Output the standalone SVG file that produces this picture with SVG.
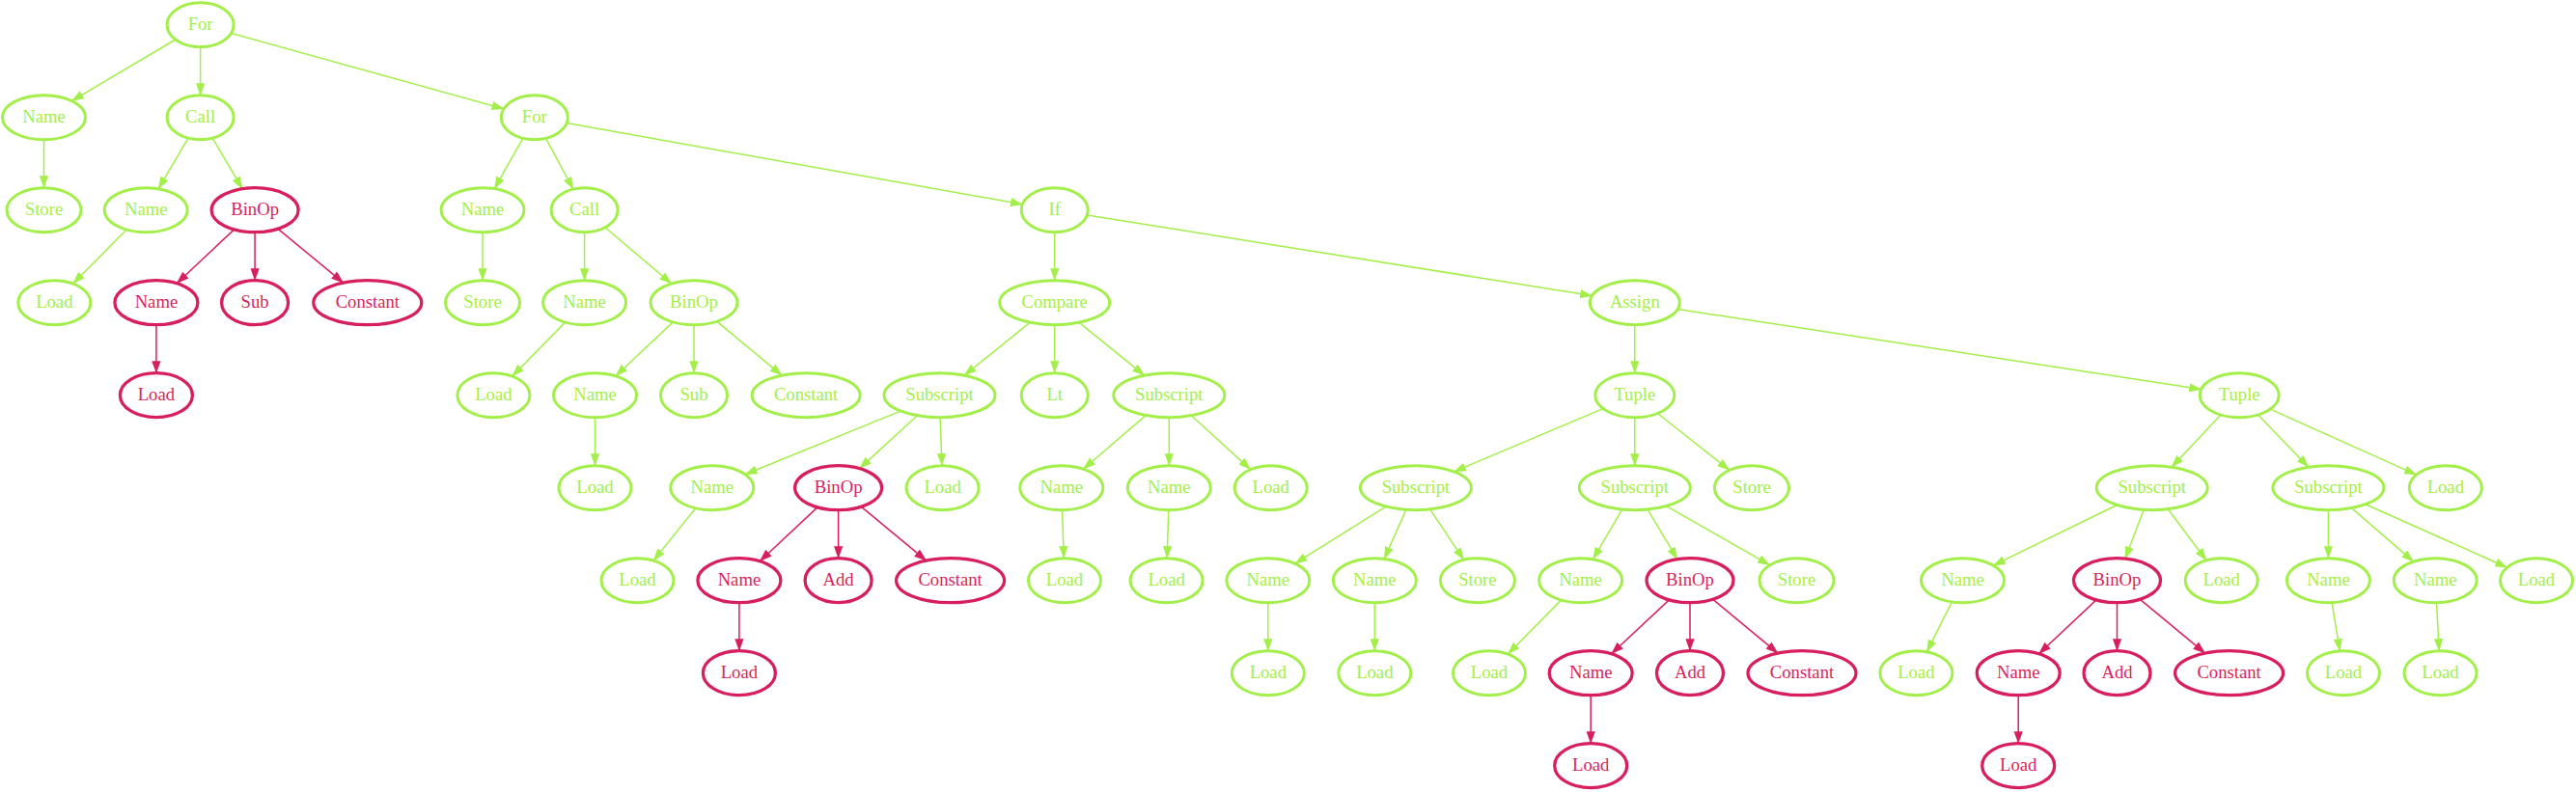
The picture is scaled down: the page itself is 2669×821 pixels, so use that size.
<svg xmlns="http://www.w3.org/2000/svg" width="2669" height="821" viewBox="0 0 2669 821">
<defs>
<style>
.g ellipse{fill:#ffffff;stroke:#a3ef49;stroke-width:3}
.r ellipse{fill:#ffffff;stroke:#d81f5d;stroke-width:3.3}
.g text{fill:#a3ef49}
.r text{fill:#d81f5d}
text{font-family:"Liberation Serif","Times New Roman",serif;font-size:18.67px;text-anchor:middle}
.e line{stroke:#a3ef49;stroke-width:1.5;fill:none}
.e line.x{stroke:#d81f5d;marker-end:url(#ar)}
.e line.y{marker-end:url(#ag)}
</style>
<marker id="ag" markerUnits="userSpaceOnUse" viewBox="0 0 13 10" markerWidth="13" markerHeight="10" refX="12.5" refY="5" orient="auto"><path d="M0,0.4 L13,5 L0,9.6 z" fill="#a3ef49"/></marker>
<marker id="ar" markerUnits="userSpaceOnUse" viewBox="0 0 13 10" markerWidth="13" markerHeight="10" refX="12.5" refY="5" orient="auto"><path d="M0,0.4 L13,5 L0,9.6 z" fill="#d81f5d"/></marker>
</defs>
<rect width="2669" height="821" fill="#ffffff"/>
<g id="edges" class="e">
<line class="y" x1="181.8" y1="41" x2="74.4" y2="104.6"/>
<line class="y" x1="207.6" y1="48.7" x2="207.6" y2="98.7"/>
<line class="y" x1="239.5" y1="34.5" x2="522" y2="112.9"/>
<line class="y" x1="45.5" y1="144.7" x2="45.5" y2="194.7"/>
<line class="y" x1="195" y1="143.1" x2="164.1" y2="195.8"/>
<line class="y" x1="220.2" y1="143.1" x2="251.1" y2="195.7"/>
<line class="y" x1="131.1" y1="238" x2="75.7" y2="294"/>
<line class="x" x1="242.6" y1="237.9" x2="183.2" y2="293.7"/>
<line class="x" x1="264.1" y1="240.7" x2="264.1" y2="290.7"/>
<line class="x" x1="287.9" y1="237.2" x2="355.8" y2="293.1"/>
<line class="x" x1="161.9" y1="336.7" x2="161.9" y2="386.7"/>
<line class="y" x1="541.8" y1="143.3" x2="512.3" y2="195.7"/>
<line class="y" x1="565.5" y1="143.4" x2="593.9" y2="196"/>
<line class="y" x1="587.1" y1="127.6" x2="1059.4" y2="211.8"/>
<line class="y" x1="500" y1="240.7" x2="500" y2="290.7"/>
<line class="y" x1="605.6" y1="240.7" x2="605.6" y2="290.7"/>
<line class="y" x1="627" y1="235.8" x2="695.7" y2="294"/>
<line class="y" x1="585.6" y1="334.1" x2="530.7" y2="390"/>
<line class="y" x1="697.4" y1="333.9" x2="637.9" y2="389.7"/>
<line class="y" x1="719" y1="336.7" x2="719" y2="386.7"/>
<line class="y" x1="742.7" y1="333.2" x2="810.2" y2="389.1"/>
<line class="y" x1="616.5" y1="432.7" x2="616.5" y2="482.7"/>
<line class="y" x1="1092.7" y1="240.7" x2="1092.7" y2="290.7"/>
<line class="y" x1="1126.3" y1="223.1" x2="1649.6" y2="306.6"/>
<line class="y" x1="1067.2" y1="334.3" x2="999.1" y2="389.1"/>
<line class="y" x1="1092.7" y1="336.7" x2="1092.7" y2="386.7"/>
<line class="y" x1="1118.1" y1="334.3" x2="1185.8" y2="389.1"/>
<line class="y" x1="933.2" y1="426.1" x2="772" y2="491.8"/>
<line class="y" x1="950.5" y1="430.8" x2="890.5" y2="485.6"/>
<line class="y" x1="974.2" y1="432.7" x2="975.9" y2="482.7"/>
<line class="y" x1="720.8" y1="526.8" x2="677.1" y2="581.1"/>
<line class="x" x1="847" y1="525.9" x2="787.3" y2="581.7"/>
<line class="x" x1="868.6" y1="528.7" x2="868.6" y2="578.7"/>
<line class="x" x1="892.2" y1="525.2" x2="959.7" y2="581.1"/>
<line class="x" x1="765.9" y1="624.7" x2="765.9" y2="674.7"/>
<line class="y" x1="1187.1" y1="430.6" x2="1122.5" y2="486.2"/>
<line class="y" x1="1211.3" y1="432.7" x2="1211.3" y2="482.7"/>
<line class="y" x1="1234.4" y1="430.8" x2="1295.8" y2="486.6"/>
<line class="y" x1="1100.6" y1="528.7" x2="1102.2" y2="578.7"/>
<line class="y" x1="1210.7" y1="528.7" x2="1209.2" y2="578.7"/>
<line class="y" x1="1693.8" y1="336.7" x2="1693.8" y2="386.7"/>
<line class="y" x1="1738.2" y1="320.5" x2="2280.7" y2="403.6"/>
<line class="y" x1="1661.1" y1="423.6" x2="1506.4" y2="489"/>
<line class="y" x1="1693.8" y1="432.7" x2="1693.8" y2="482.7"/>
<line class="y" x1="1717.5" y1="428.5" x2="1791.8" y2="487.3"/>
<line class="y" x1="1436" y1="525.1" x2="1341.7" y2="584.2"/>
<line class="y" x1="1456.9" y1="528.4" x2="1434.2" y2="579.3"/>
<line class="y" x1="1481.7" y1="527.9" x2="1516.7" y2="580.3"/>
<line class="y" x1="1313.8" y1="624.7" x2="1313.8" y2="674.7"/>
<line class="y" x1="1424.3" y1="624.7" x2="1424.3" y2="674.7"/>
<line class="y" x1="1680.7" y1="528.1" x2="1650.5" y2="579.8"/>
<line class="y" x1="1707.1" y1="528.1" x2="1737.9" y2="579.7"/>
<line class="y" x1="1726.7" y1="524.6" x2="1833.7" y2="585.8"/>
<line class="y" x1="1617.5" y1="622.1" x2="1562.4" y2="678"/>
<line class="x" x1="1729.4" y1="621.9" x2="1669.6" y2="677.7"/>
<line class="x" x1="1751" y1="624.7" x2="1751" y2="674.7"/>
<line class="x" x1="1774.6" y1="621.2" x2="1842.1" y2="677.1"/>
<line class="x" x1="1648.2" y1="720.7" x2="1648.2" y2="770.7"/>
<line class="y" x1="2301" y1="430" x2="2250" y2="484.2"/>
<line class="y" x1="2339.6" y1="430" x2="2391.8" y2="484.2"/>
<line class="y" x1="2352.2" y1="424.1" x2="2503.6" y2="492.1"/>
<line class="y" x1="2193.3" y1="523.5" x2="2065.2" y2="586.2"/>
<line class="y" x1="2221.1" y1="528.4" x2="2202" y2="579.1"/>
<line class="y" x1="2246.2" y1="527.7" x2="2286" y2="580.8"/>
<line class="y" x1="2412.4" y1="528.7" x2="2412.4" y2="578.7"/>
<line class="y" x1="2436.5" y1="526.6" x2="2500.6" y2="582.1"/>
<line class="y" x1="2450.8" y1="522.8" x2="2597.7" y2="588.2"/>
<line class="y" x1="2022.4" y1="623.9" x2="1996.4" y2="675.7"/>
<line class="x" x1="2172" y1="621.9" x2="2112.5" y2="677.7"/>
<line class="x" x1="2193.5" y1="624.7" x2="2193.5" y2="674.7"/>
<line class="x" x1="2217.1" y1="621.2" x2="2284.7" y2="677.1"/>
<line class="x" x1="2091.2" y1="720.7" x2="2091.2" y2="770.7"/>
<line class="y" x1="2416.1" y1="624.6" x2="2424.3" y2="674.8"/>
<line class="y" x1="2524.5" y1="624.7" x2="2527.2" y2="674.7"/>
</g>
<g id="n0" class="g"><ellipse cx="207.6" cy="25.7" rx="34.5" ry="23"/><text x="207.6" y="31.2">For</text></g>
<g id="n1" class="g"><ellipse cx="45.5" cy="121.7" rx="43" ry="23"/><text x="45.5" y="127.2">Name</text></g>
<g id="n2" class="g"><ellipse cx="207.6" cy="121.7" rx="34.5" ry="23"/><text x="207.6" y="127.2">Call</text></g>
<g id="n3" class="g"><ellipse cx="553.8" cy="121.7" rx="34.5" ry="23"/><text x="553.8" y="127.2">For</text></g>
<g id="n4" class="g"><ellipse cx="45.5" cy="217.7" rx="38.5" ry="23"/><text x="45.5" y="223.2">Store</text></g>
<g id="n5" class="g"><ellipse cx="151.2" cy="217.7" rx="43" ry="23"/><text x="151.2" y="223.2">Name</text></g>
<g id="n6" class="r"><ellipse cx="264.1" cy="217.7" rx="45" ry="23"/><text x="264.1" y="223.2">BinOp</text></g>
<g id="n7" class="g"><ellipse cx="56.3" cy="313.7" rx="37.5" ry="23"/><text x="56.3" y="319.2">Load</text></g>
<g id="n8" class="r"><ellipse cx="161.9" cy="313.7" rx="43" ry="23"/><text x="161.9" y="319.2">Name</text></g>
<g id="n9" class="r"><ellipse cx="264.1" cy="313.7" rx="34.5" ry="23"/><text x="264.1" y="319.2">Sub</text></g>
<g id="n10" class="r"><ellipse cx="380.8" cy="313.7" rx="56" ry="23"/><text x="380.8" y="319.2">Constant</text></g>
<g id="n11" class="r"><ellipse cx="161.9" cy="409.7" rx="37.5" ry="23"/><text x="161.9" y="415.2">Load</text></g>
<g id="n12" class="g"><ellipse cx="500" cy="217.7" rx="43" ry="23"/><text x="500" y="223.2">Name</text></g>
<g id="n13" class="g"><ellipse cx="605.6" cy="217.7" rx="34.5" ry="23"/><text x="605.6" y="223.2">Call</text></g>
<g id="n14" class="g"><ellipse cx="1092.7" cy="217.7" rx="34.5" ry="23"/><text x="1092.7" y="223.2">If</text></g>
<g id="n15" class="g"><ellipse cx="500" cy="313.7" rx="38.5" ry="23"/><text x="500" y="319.2">Store</text></g>
<g id="n16" class="g"><ellipse cx="605.6" cy="313.7" rx="43" ry="23"/><text x="605.6" y="319.2">Name</text></g>
<g id="n17" class="g"><ellipse cx="719" cy="313.7" rx="45" ry="23"/><text x="719" y="319.2">BinOp</text></g>
<g id="n18" class="g"><ellipse cx="511.4" cy="409.7" rx="37.5" ry="23"/><text x="511.4" y="415.2">Load</text></g>
<g id="n19" class="g"><ellipse cx="616.5" cy="409.7" rx="43" ry="23"/><text x="616.5" y="415.2">Name</text></g>
<g id="n20" class="g"><ellipse cx="719" cy="409.7" rx="34.5" ry="23"/><text x="719" y="415.2">Sub</text></g>
<g id="n21" class="g"><ellipse cx="835.1" cy="409.7" rx="56" ry="23"/><text x="835.1" y="415.2">Constant</text></g>
<g id="n22" class="g"><ellipse cx="616.5" cy="505.7" rx="37.5" ry="23"/><text x="616.5" y="511.2">Load</text></g>
<g id="n23" class="g"><ellipse cx="1092.7" cy="313.7" rx="57" ry="23"/><text x="1092.7" y="319.2">Compare</text></g>
<g id="n24" class="g"><ellipse cx="973.5" cy="409.7" rx="57.5" ry="23"/><text x="973.5" y="415.2">Subscript</text></g>
<g id="n25" class="g"><ellipse cx="1092.7" cy="409.7" rx="34.5" ry="23"/><text x="1092.7" y="415.2">Lt</text></g>
<g id="n26" class="g"><ellipse cx="1211.3" cy="409.7" rx="57.5" ry="23"/><text x="1211.3" y="415.2">Subscript</text></g>
<g id="n27" class="g"><ellipse cx="737.8" cy="505.7" rx="43" ry="23"/><text x="737.8" y="511.2">Name</text></g>
<g id="n28" class="r"><ellipse cx="868.6" cy="505.7" rx="45" ry="23"/><text x="868.6" y="511.2">BinOp</text></g>
<g id="n29" class="g"><ellipse cx="976.6" cy="505.7" rx="37.5" ry="23"/><text x="976.6" y="511.2">Load</text></g>
<g id="n30" class="g"><ellipse cx="660.5" cy="601.7" rx="37.5" ry="23"/><text x="660.5" y="607.2">Load</text></g>
<g id="n31" class="r"><ellipse cx="765.9" cy="601.7" rx="43" ry="23"/><text x="765.9" y="607.2">Name</text></g>
<g id="n32" class="r"><ellipse cx="868.6" cy="601.7" rx="34.5" ry="23"/><text x="868.6" y="607.2">Add</text></g>
<g id="n33" class="r"><ellipse cx="984.6" cy="601.7" rx="56" ry="23"/><text x="984.6" y="607.2">Constant</text></g>
<g id="n34" class="r"><ellipse cx="765.9" cy="697.7" rx="37.5" ry="23"/><text x="765.9" y="703.2">Load</text></g>
<g id="n35" class="g"><ellipse cx="1099.8" cy="505.7" rx="43" ry="23"/><text x="1099.8" y="511.2">Name</text></g>
<g id="n36" class="g"><ellipse cx="1211.3" cy="505.7" rx="43" ry="23"/><text x="1211.3" y="511.2">Name</text></g>
<g id="n37" class="g"><ellipse cx="1316.7" cy="505.7" rx="37.5" ry="23"/><text x="1316.7" y="511.2">Load</text></g>
<g id="n38" class="g"><ellipse cx="1103" cy="601.7" rx="37.5" ry="23"/><text x="1103" y="607.2">Load</text></g>
<g id="n39" class="g"><ellipse cx="1208.6" cy="601.7" rx="37.5" ry="23"/><text x="1208.6" y="607.2">Load</text></g>
<g id="n40" class="g"><ellipse cx="1693.8" cy="313.7" rx="46.5" ry="23"/><text x="1693.8" y="319.2">Assign</text></g>
<g id="n41" class="g"><ellipse cx="1693.8" cy="409.7" rx="41" ry="23"/><text x="1693.8" y="415.2">Tuple</text></g>
<g id="n42" class="g"><ellipse cx="2320.2" cy="409.7" rx="41" ry="23"/><text x="2320.2" y="415.2">Tuple</text></g>
<g id="n43" class="g"><ellipse cx="1466.9" cy="505.7" rx="57.5" ry="23"/><text x="1466.9" y="511.2">Subscript</text></g>
<g id="n44" class="g"><ellipse cx="1693.8" cy="505.7" rx="57.5" ry="23"/><text x="1693.8" y="511.2">Subscript</text></g>
<g id="n45" class="g"><ellipse cx="1815" cy="505.7" rx="38.5" ry="23"/><text x="1815" y="511.2">Store</text></g>
<g id="n46" class="g"><ellipse cx="1313.8" cy="601.7" rx="43" ry="23"/><text x="1313.8" y="607.2">Name</text></g>
<g id="n47" class="g"><ellipse cx="1424.3" cy="601.7" rx="43" ry="23"/><text x="1424.3" y="607.2">Name</text></g>
<g id="n48" class="g"><ellipse cx="1530.9" cy="601.7" rx="38.5" ry="23"/><text x="1530.9" y="607.2">Store</text></g>
<g id="n49" class="g"><ellipse cx="1313.8" cy="697.7" rx="37.5" ry="23"/><text x="1313.8" y="703.2">Load</text></g>
<g id="n50" class="g"><ellipse cx="1424.3" cy="697.7" rx="37.5" ry="23"/><text x="1424.3" y="703.2">Load</text></g>
<g id="n51" class="g"><ellipse cx="1637.6" cy="601.7" rx="43" ry="23"/><text x="1637.6" y="607.2">Name</text></g>
<g id="n52" class="r"><ellipse cx="1751" cy="601.7" rx="45" ry="23"/><text x="1751" y="607.2">BinOp</text></g>
<g id="n53" class="g"><ellipse cx="1861.5" cy="601.7" rx="38.5" ry="23"/><text x="1861.5" y="607.2">Store</text></g>
<g id="n54" class="g"><ellipse cx="1543" cy="697.7" rx="37.5" ry="23"/><text x="1543" y="703.2">Load</text></g>
<g id="n55" class="r"><ellipse cx="1648.2" cy="697.7" rx="43" ry="23"/><text x="1648.2" y="703.2">Name</text></g>
<g id="n56" class="r"><ellipse cx="1751" cy="697.7" rx="34.5" ry="23"/><text x="1751" y="703.2">Add</text></g>
<g id="n57" class="r"><ellipse cx="1867" cy="697.7" rx="56" ry="23"/><text x="1867" y="703.2">Constant</text></g>
<g id="n58" class="r"><ellipse cx="1648.2" cy="793.7" rx="37.5" ry="23"/><text x="1648.2" y="799.2">Load</text></g>
<g id="n59" class="g"><ellipse cx="2229.7" cy="505.7" rx="57.5" ry="23"/><text x="2229.7" y="511.2">Subscript</text></g>
<g id="n60" class="g"><ellipse cx="2412.4" cy="505.7" rx="57.5" ry="23"/><text x="2412.4" y="511.2">Subscript</text></g>
<g id="n61" class="g"><ellipse cx="2533.8" cy="505.7" rx="37.5" ry="23"/><text x="2533.8" y="511.2">Load</text></g>
<g id="n62" class="g"><ellipse cx="2033.5" cy="601.7" rx="43" ry="23"/><text x="2033.5" y="607.2">Name</text></g>
<g id="n63" class="r"><ellipse cx="2193.5" cy="601.7" rx="45" ry="23"/><text x="2193.5" y="607.2">BinOp</text></g>
<g id="n64" class="g"><ellipse cx="2301.7" cy="601.7" rx="37.5" ry="23"/><text x="2301.7" y="607.2">Load</text></g>
<g id="n65" class="g"><ellipse cx="2412.4" cy="601.7" rx="43" ry="23"/><text x="2412.4" y="607.2">Name</text></g>
<g id="n66" class="g"><ellipse cx="2523.2" cy="601.7" rx="43" ry="23"/><text x="2523.2" y="607.2">Name</text></g>
<g id="n67" class="g"><ellipse cx="2628" cy="601.7" rx="37.5" ry="23"/><text x="2628" y="607.2">Load</text></g>
<g id="n68" class="g"><ellipse cx="1985.4" cy="697.7" rx="37.5" ry="23"/><text x="1985.4" y="703.2">Load</text></g>
<g id="n69" class="r"><ellipse cx="2091.2" cy="697.7" rx="43" ry="23"/><text x="2091.2" y="703.2">Name</text></g>
<g id="n70" class="r"><ellipse cx="2193.5" cy="697.7" rx="34.5" ry="23"/><text x="2193.5" y="703.2">Add</text></g>
<g id="n71" class="r"><ellipse cx="2309.6" cy="697.7" rx="56" ry="23"/><text x="2309.6" y="703.2">Constant</text></g>
<g id="n72" class="g"><ellipse cx="2428" cy="697.7" rx="37.5" ry="23"/><text x="2428" y="703.2">Load</text></g>
<g id="n73" class="g"><ellipse cx="2528.5" cy="697.7" rx="37.5" ry="23"/><text x="2528.5" y="703.2">Load</text></g>
<g id="n74" class="r"><ellipse cx="2091.2" cy="793.7" rx="37.5" ry="23"/><text x="2091.2" y="799.2">Load</text></g>
</svg>
